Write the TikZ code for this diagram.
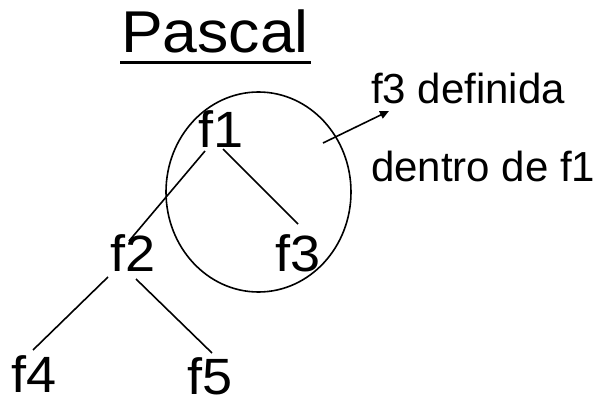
\documentclass[tikz,border=0pt]{standalone}
\usepackage{fontspec}
\setmainfont{Liberation Sans}
\newfontfamily\widefont[FakeStretch=1.06]{Liberation Sans}
\usetikzlibrary{arrows.meta}
\begin{document}
\begin{tikzpicture}[x=1pt,y=-1pt,
  lbl/.style={font=\widefont\fontsize{51}{58}\selectfont, anchor=base, inner sep=0pt, text depth=0pt},
  note/.style={font=\fontsize{42}{50}\selectfont, anchor=base west, inner sep=0pt},
  edge/.style={line width=1.6pt},
  ]
\useasboundingbox (0,0) rectangle (598,401);
\node[font=\widefont\fontsize{59}{66}\selectfont, anchor=base, inner sep=0pt] (title) at (215,53) {Pascal};
\coordinate (u1) at (120,62.5); \coordinate (u2) at (311,62.5);
\draw[line width=3.5pt] (u1) -- (u2);
\node[lbl] (f1) at (221,148) {f1};
\node[lbl] (f2) at (133,272) {f2};
\node[lbl] (f3) at (298,272) {f3};
\node[lbl] (f4) at (34,392) {f4};
\node[lbl] (f5) at (210,394) {f5};
\node[note] (t1) at (371,104) {f3 definida};
\node[note] (t2) at (371,182) {dentro de f1};
\coordinate (a1) at (205,151); \coordinate (a2) at (129,241);
\coordinate (b1) at (223,149); \coordinate (b2) at (298,224);
\coordinate (c1) at (108,277); \coordinate (c2) at (33,350);
\coordinate (d1) at (136,279); \coordinate (d2) at (212,353);
\draw[edge] (a1) -- (a2);
\draw[edge] (b1) -- (b2);
\draw[edge] (c1) -- (c2);
\draw[edge] (d1) -- (d2);
\coordinate (oc) at (258.5,192);
\draw[edge] (oc) ellipse [x radius=92.5, y radius=100];
\coordinate (e1) at (323,143); \coordinate (e2) at (389,111);
\draw[edge, -{Triangle[length=9pt,width=8pt]}] (e1) -- (e2);
\end{tikzpicture}
\end{document}
